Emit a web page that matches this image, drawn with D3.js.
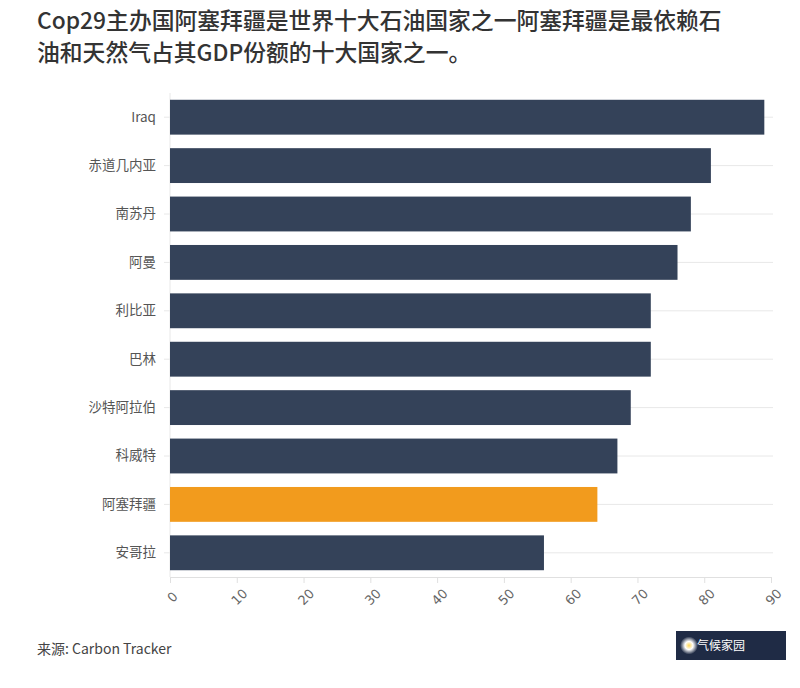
<!DOCTYPE html>
<html>
<head>
<meta charset="utf-8">
<title>Cop29</title>
<script src="https://d3js.org/d3.v7.min.js"></script>
<style>
 body { margin: 0; background: #fff; }
 .title { fill: #333; font: 500 22.8px "Noto Sans CJK SC", sans-serif; }
 .source { fill: #444; font: 14px "Noto Sans CJK SC", sans-serif; }
 .yaxis text { fill: #555; font: 13.5px "Noto Sans CJK SC", sans-serif; }
 .xaxis text { fill: #666; font: 13px "DejaVu Sans", sans-serif; }
 .grid line { stroke: #e8e8e8; }
</style>
</head>
<body>
<div id="chart"></div>
<script>
var countries = ["Iraq", "赤道几内亚", "南苏丹", "阿曼", "利比亚", "巴林", "沙特阿拉伯", "科威特", "阿塞拜疆", "安哥拉"];
var shares = [89, 81, 78, 76, 72, 72, 69, 67, 64, 56];
var xTicks = [0, 10, 20, 30, 40, 50, 60, 70, 80, 90];
var highlight = "阿塞拜疆";

var width = 800, height = 688;
var margin = {top: 93, right: 29, bottom: 111, left: 170};

var svg = d3.select("#chart").append("svg")
  .attr("width", width)
  .attr("height", height);

var x = d3.scaleLinear().domain([0, 90]).range([margin.left, width - margin.right]);
var y = d3.scaleBand().domain(countries).range([margin.top, height - margin.bottom]).paddingInner(0.28).paddingOuter(0.14);

svg.append("text").attr("class", "title").attr("x", 37).attr("y", 29)
  .text("Cop29主办国阿塞拜疆是世界十大石油国家之一阿塞拜疆是最依赖石");
svg.append("text").attr("class", "title").attr("x", 37).attr("y", 61)
  .text("油和天然气占其GDP份额的十大国家之一。");

// horizontal gridlines through bar centres
svg.append("g").attr("class", "grid")
  .selectAll("line").data(countries).enter().append("line")
  .attr("x1", margin.left).attr("x2", x(90) + 2)
  .attr("y1", d => y(d) + y.bandwidth() / 2)
  .attr("y2", d => y(d) + y.bandwidth() / 2);

// left axis line
svg.append("line")
  .attr("x1", margin.left).attr("x2", margin.left)
  .attr("y1", margin.top).attr("y2", height - margin.bottom)
  .attr("stroke", "#e8e8e8");

svg.append("g").selectAll("rect").data(countries).enter().append("rect")
  .attr("x", x(0))
  .attr("y", d => y(d))
  .attr("width", (d, i) => x(shares[i]) - x(0))
  .attr("height", y.bandwidth())
  .attr("fill", d => d === highlight ? "#f29b1d" : "#344259");

var yAxis = svg.append("g").attr("class", "yaxis")
  .attr("transform", "translate(" + margin.left + ",0)")
  .call(d3.axisLeft(y).tickSize(6).tickPadding(8));
yAxis.select(".domain").remove();
yAxis.selectAll(".tick line").attr("stroke", "#e8e8e8");

var xAxis = svg.append("g").attr("class", "xaxis")
  .attr("transform", "translate(0," + (height - margin.bottom) + ")")
  .call(d3.axisBottom(x).tickValues(xTicks).tickSize(6));
xAxis.select(".domain").attr("stroke", "#e0e0e0");
xAxis.selectAll(".tick line").attr("stroke", "#e0e0e0");
xAxis.selectAll(".tick text")
  .attr("text-anchor", "middle")
  .attr("y", 0)
  .attr("dy", "0.35em")
  .attr("transform", "translate(2,20) rotate(-45)");

svg.append("text").attr("class", "source").attr("x", 37).attr("y", 654)
  .text("来源: Carbon Tracker");

// logo badge
var logo = svg.append("g").attr("transform", "translate(676,631)");
logo.append("rect").attr("width", 110).attr("height", 29).attr("fill", "#1f2b45");
var glow = svg.append("defs").append("radialGradient").attr("id", "glow");
glow.append("stop").attr("offset", "0%").attr("stop-color", "#ffd75a");
glow.append("stop").attr("offset", "45%").attr("stop-color", "#ffffff");
glow.append("stop").attr("offset", "100%").attr("stop-color", "#1f2b45");
logo.append("circle").attr("cx", 13).attr("cy", 14.5).attr("r", 9).attr("fill", "url(#glow)");
logo.append("text").attr("x", 21).attr("y", 19).attr("fill", "#fff")
  .style("font", "12px 'Noto Sans CJK SC', sans-serif").text("气候家园");
</script>
</body>
</html>
